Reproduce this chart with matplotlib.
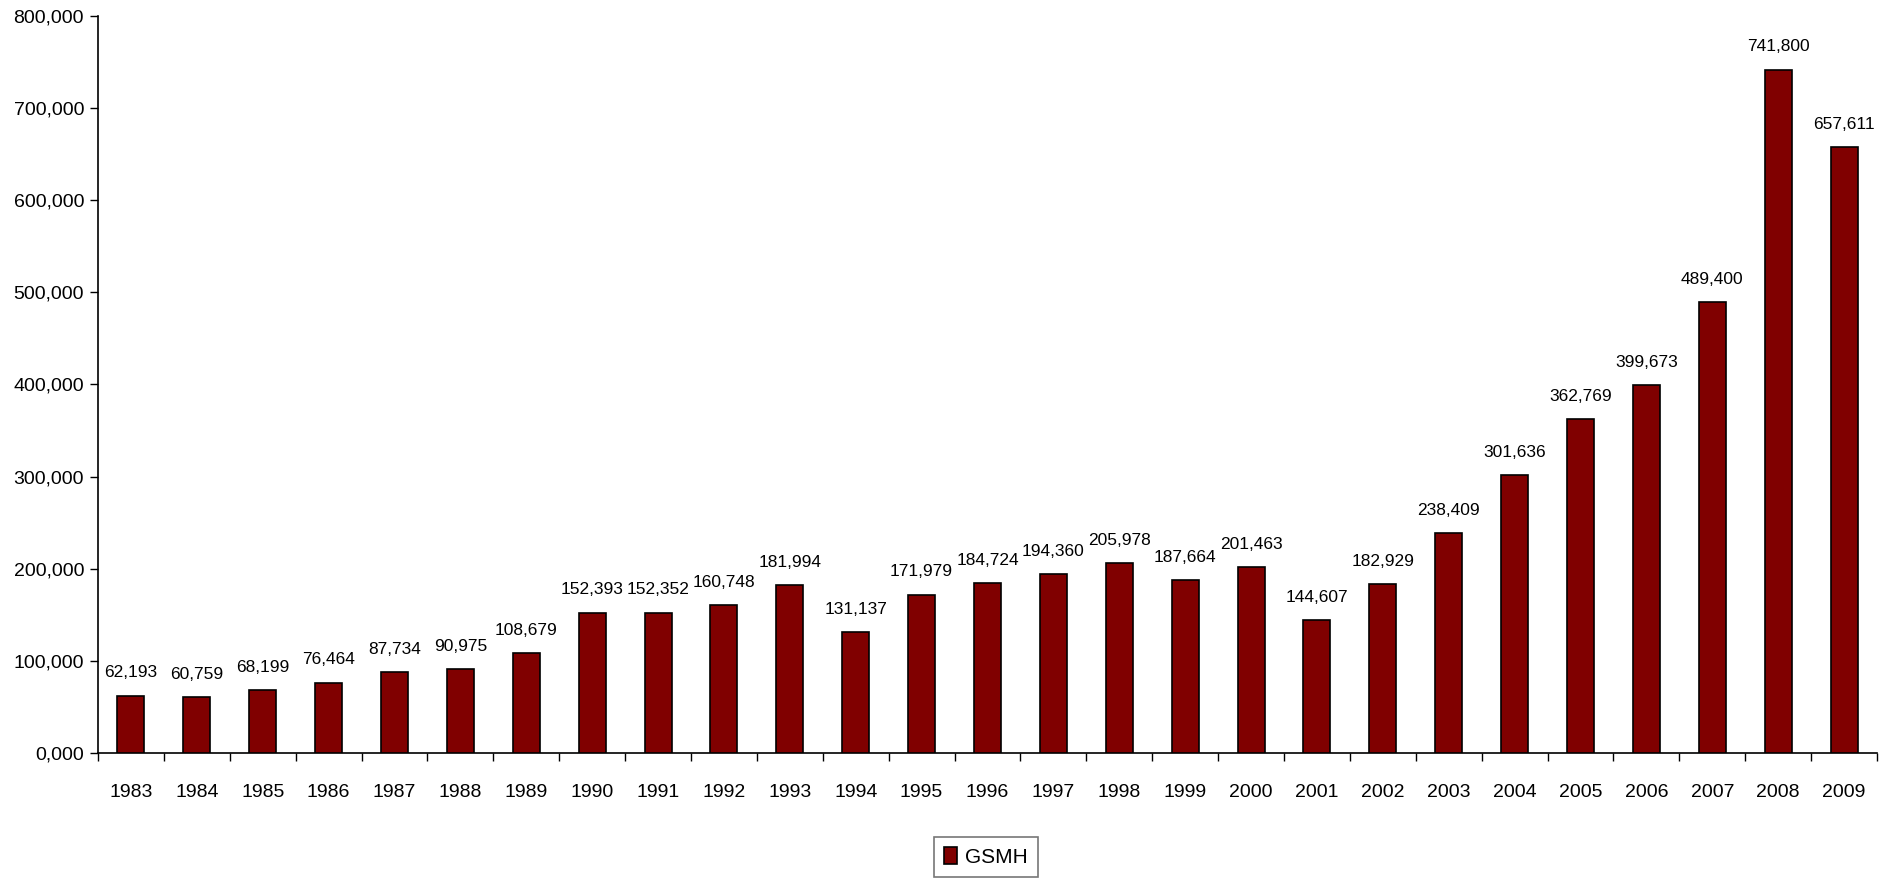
import numpy as np
import matplotlib
matplotlib.use('agg')
import matplotlib.pyplot as plt
from matplotlib.ticker import FuncFormatter, FixedLocator

years = list(range(1983, 2010))
gsmh = [62193, 60759, 68199, 76464, 87734, 90975, 108679, 152393, 152352, 160748,
        181994, 131137, 171979, 184724, 194360, 205978, 187664, 201463, 144607, 182929,
        238409, 301636, 362769, 399673, 489400, 741800, 657611]
yticks = np.arange(0, 800001, 100000)

plt.rcParams['font.family'] = ['Liberation Sans', 'DejaVu Sans']

fig = plt.figure(figsize=(19.01, 8.81), dpi=100)
ax = fig.add_axes([98 / 1901, 1 - 753 / 881, (1877 - 98) / 1901, (753 - 16) / 881])

x = np.arange(len(years))
bars = ax.bar(x, gsmh, width=0.41, color='#800000', edgecolor='black', linewidth=1.2,
              label='GSMH', zorder=3)

for xi, v in zip(x, gsmh):
    ax.annotate('{:,}'.format(v), (xi, v), xytext=(0, 11), textcoords='offset points',
                ha='center', va='bottom', fontsize=12.5)

ax.set_xlim(-0.5, len(years) - 0.5)
ax.set_ylim(0, 800000)
ax.set_yticks(yticks)
ax.yaxis.set_major_formatter(FuncFormatter(
    lambda v, p: '0,000' if v == 0 else '{:,.0f}'.format(v)))
ax.set_xticks(x)
ax.set_xticklabels([str(y) for y in years])
ax.xaxis.set_minor_locator(FixedLocator(np.arange(-0.5, len(years), 1.0)))
ax.tick_params(axis='x', which='major', length=0, pad=22, labelsize=14)
ax.tick_params(axis='x', which='minor', length=6, width=1)
ax.tick_params(axis='y', length=6, width=1, labelsize=14, pad=4)

for s in ['top', 'right']:
    ax.spines[s].set_visible(False)
for s in ['left', 'bottom']:
    ax.spines[s].set_linewidth(1.2)

leg = ax.legend(loc='center', bbox_to_anchor=(986 / 1901, 1 - 857 / 881),
                bbox_transform=fig.transFigure, fontsize=15, frameon=True, fancybox=False,
                handlelength=0.6, handleheight=0.9, handletextpad=0.4, borderpad=0.5)
leg.get_frame().set_edgecolor('#555555')
leg.get_frame().set_linewidth(1.2)

fig.savefig('out.png', dpi=100)
